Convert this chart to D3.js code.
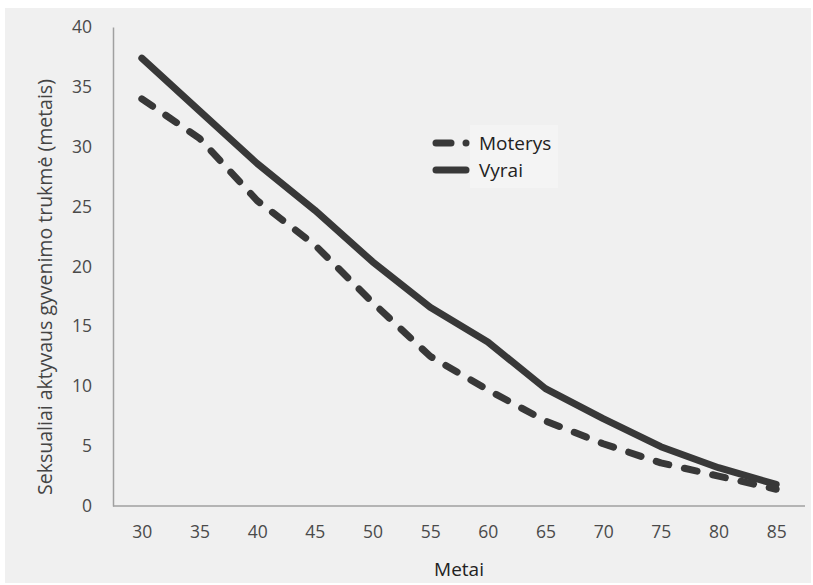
<!DOCTYPE html>
<html><head><meta charset="utf-8">
<script src="https://cdn.jsdelivr.net/npm/d3@7"></script>
<style>body{margin:0;background:#fff}svg{display:block}text{font-family:"Open Sans",sans-serif}</style>
</head><body>
<svg id="c" width="813" height="585"></svg>
<script>
const ages = [30,35,40,45,50,55,60,65,70,75,80,85];
const vyrai = [37.4,33.0,28.6,24.7,20.4,16.6,13.7,9.8,7.3,4.95,3.2,1.8];
const moterys = [34.0,30.7,25.5,21.8,17.0,12.5,9.7,7.1,5.2,3.6,2.5,1.4];
const yTicks = [0,5,10,15,20,25,30,35,40];
const seriesNames = ["Moterys","Vyrai"];

const svg = d3.select("#c");
svg.append("rect").attr("x",5).attr("y",8).attr("width",806).attr("height",575).attr("fill","#f0f0f0");

const x = d3.scalePoint().domain(ages).range([113,805]).padding(0.5);
const y = d3.scaleLinear().domain([0,40]).range([506,27]);
const textCol = "#4a4a4a";

// y axis
const ya = svg.append("g").attr("transform","translate(113,0)")
  .call(d3.axisLeft(y).tickValues(yTicks).tickSize(0).tickPadding(21));
ya.select(".domain").attr("stroke","#a0a0a0").attr("stroke-width",1.5);
ya.selectAll("text").attr("font-size",17.5).attr("fill",textCol).attr("font-family","Open Sans");

// x axis
const xa = svg.append("g").attr("transform","translate(0,506)")
  .call(d3.axisBottom(x).tickSize(0).tickPadding(20));
xa.select(".domain").attr("stroke","#a0a0a0").attr("stroke-width",1.5).attr("d","M113,0H805");
xa.selectAll("text").attr("font-size",17.5).attr("fill",textCol).attr("font-family","Open Sans");

svg.append("text").attr("x",459).attr("y",576).attr("text-anchor","middle")
  .attr("font-size",19).attr("fill","#222").text("Metai");
svg.append("text").attr("transform","translate(52,287) rotate(-90)").attr("text-anchor","middle")
  .attr("font-size",19.5).attr("fill","#444").text("Seksualiai aktyvaus gyvenimo trukmė (metais)");

const line = d3.line().x((d,i)=>x(ages[i])).y(d=>y(d));
const lineCol = "#383838";
svg.append("path").datum(vyrai).attr("d",line).attr("fill","none").attr("stroke",lineCol)
  .attr("stroke-width",7).attr("stroke-linecap","round").attr("stroke-linejoin","round");
svg.append("path").datum(moterys).attr("d",line).attr("fill","none").attr("stroke",lineCol)
  .attr("stroke-width",7).attr("stroke-linecap","round").attr("stroke-linejoin","round")
  .attr("stroke-dasharray","13,16");

// legend
const lg = svg.append("g");
lg.append("rect").attr("x",470).attr("y",125).attr("width",88).attr("height",63).attr("fill","#f4f4f4");
lg.append("line").attr("x1",436).attr("x2",451).attr("y1",143).attr("y2",143).attr("stroke",lineCol)
  .attr("stroke-width",7).attr("stroke-linecap","round");
lg.append("circle").attr("cx",466).attr("cy",143).attr("r",3.5).attr("fill",lineCol);
lg.append("line").attr("x1",436).attr("x2",466).attr("y1",170).attr("y2",170).attr("stroke",lineCol)
  .attr("stroke-width",7).attr("stroke-linecap","round");
lg.selectAll("text.l").data(seriesNames).enter().append("text")
  .attr("x",479).attr("y",(d,i)=>150+i*27).attr("font-size",19).attr("fill","#222").text(d=>d);
</script>
</body></html>
